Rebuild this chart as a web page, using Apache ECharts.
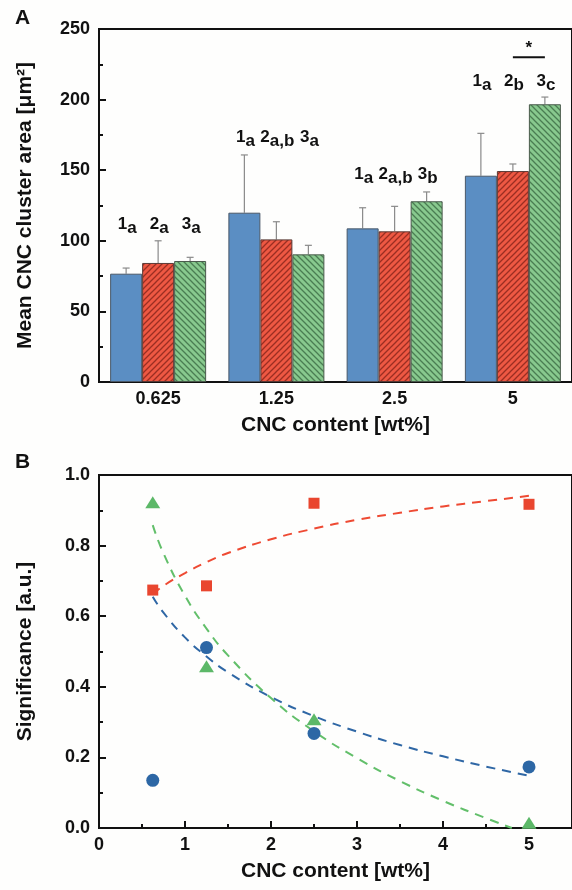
<!DOCTYPE html>
<html>
<head>
<meta charset="utf-8">
<script src="https://cdn.jsdelivr.net/npm/echarts@6/dist/echarts.min.js"></script>
<style>
html,body{margin:0;padding:0;background:#fefefd;}
#chart{width:572px;height:890px;}
</style>
</head>
<body>
<div id="chart"></div>
<script>
// ---------- Panel A data ----------
const categories = ['0.625', '1.25', '2.5', '5'];
const mean1 = [76.7, 119.9, 108.8, 146.1];
const sd1   = [4.0, 40.9, 14.6, 30.0];
const mean2 = [84.3, 101.0, 106.7, 149.4];
const sd2   = [15.7, 12.5, 17.7, 5.0];
const mean3 = [85.7, 90.4, 128.0, 196.7];
const sd3   = [2.6, 6.4, 6.6, 5.1];
const labelLevels = [112, 173, 147, 213];
const sub1 = ['a', 'a', 'a', 'a'];
const sub2 = ['a', 'a,b', 'a,b', 'b'];
const sub3 = ['a', 'a', 'b', 'c'];
const sigBracket = [3, 230, 236]; // category index, line level, star level
const yTicksA = [0, 250, 50];

// ---------- Panel B data ----------
const xConc = [0.625, 1.25, 2.5, 5];
const sigBlue  = [0.135, 0.511, 0.268, 0.173];
const sigRed   = [0.674, 0.686, 0.920, 0.917];
const sigGreen = [0.923, 0.458, 0.308, 0.015];
const fitX      = [0.625, 0.75, 1.0, 1.25, 1.5, 2.0, 2.5, 3.0, 3.5, 4.0, 4.5, 5.0];
const fitRed    = [0.662, 0.686, 0.722, 0.753, 0.779, 0.818, 0.848, 0.873, 0.893, 0.911, 0.926, 0.941];
const fitBlue   = [0.655, 0.610, 0.540, 0.486, 0.441, 0.371, 0.317, 0.273, 0.235, 0.203, 0.174, 0.148];
const fitGreenX = [0.625, 0.75, 1.0, 1.25, 1.5, 2.0, 2.5, 3.0, 3.5, 4.0, 4.5, 4.8];
const fitGreen  = [0.858, 0.778, 0.658, 0.565, 0.489, 0.368, 0.274, 0.198, 0.133, 0.077, 0.028, 0.0];

// ---------- styles ----------
const FONT = "'Liberation Sans', Arial, sans-serif";
const BAR_W = 32;
const INK = '#111';
const LBL_FONT = 'bold 17px ' + FONT;

const measureCtx = document.createElement('canvas').getContext('2d');
function textW(t, font) { measureCtx.font = font; return measureCtx.measureText(t).width; }

function hatch(bg, line, forward) {
  const s = 6;
  const c = document.createElement('canvas');
  c.width = s; c.height = s;
  const g = c.getContext('2d');
  g.fillStyle = bg; g.fillRect(0, 0, s, s);
  g.strokeStyle = line; g.lineWidth = 1.3;
  g.beginPath();
  if (forward) {
    g.moveTo(-1, s + 1); g.lineTo(s + 1, -1);
    g.moveTo(-1, 1); g.lineTo(1, -1);
    g.moveTo(s - 1, s + 1); g.lineTo(s + 1, s - 1);
  } else {
    g.moveTo(-1, -1); g.lineTo(s + 1, s + 1);
    g.moveTo(-1, s - 1); g.lineTo(1, s + 1);
    g.moveTo(s - 1, -1); g.lineTo(s + 1, 1);
  }
  g.stroke();
  return { image: c, repeat: 'repeat' };
}

const blueBar = '#5b8ec3';
const redBar = hatch('#ee5843', '#9a2e22', true);
const greenBar = hatch('#88c98e', '#4a7d52', false);

const chart = echarts.init(document.getElementById('chart'), null, { renderer: 'canvas' });

function errData(means, sds, s) {
  return means.map((m, i) => [i, m, m + sds[i], s]);
}
const labelRows = [];
[sub1, sub2, sub3].forEach((subs, s) => {
  subs.forEach((sub, i) => labelRows.push([i, labelLevels[i], s, String(s + 1), sub]));
});

const axisCommon = {
  axisLine: { show: true, lineStyle: { color: INK, width: 2 } },
  axisLabel: { color: INK, fontFamily: FONT, fontWeight: 'bold', fontSize: 18 },
  nameTextStyle: { color: INK, fontFamily: FONT, fontWeight: 'bold', fontSize: 21 },
  splitLine: { show: false }
};
const tickStyle = { show: true, inside: true, length: 7, lineStyle: { color: INK, width: 2 } };
const minorStyle = { show: true, splitNumber: 2, length: 4, lineStyle: { color: INK, width: 2 } };

const option = {
  backgroundColor: '#fefefd',
  animation: false,
  grid: [
    { left: 99, top: 29, width: 478, height: 353, show: true, borderColor: INK, borderWidth: 2, backgroundColor: 'transparent' },
    { left: 99, top: 475, width: 478, height: 353, show: true, borderColor: INK, borderWidth: 2, backgroundColor: 'transparent' }
  ],
  xAxis: [
    Object.assign({}, axisCommon, {
      gridIndex: 0, type: 'category', data: categories,
      axisTick: { show: false },
      axisLabel: Object.assign({}, axisCommon.axisLabel, { margin: 8 }),
      name: 'CNC content [wt%]', nameLocation: 'middle', nameGap: 33
    }),
    Object.assign({}, axisCommon, {
      gridIndex: 1, type: 'value', min: 0, max: 5.5, interval: 1,
      axisTick: tickStyle, minorTick: minorStyle,
      axisLabel: Object.assign({}, axisCommon.axisLabel, { margin: 8, showMaxLabel: false }),
      name: 'CNC content [wt%]', nameLocation: 'middle', nameGap: 33
    })
  ],
  yAxis: [
    Object.assign({}, axisCommon, {
      gridIndex: 0, type: 'value', min: yTicksA[0], max: yTicksA[1], interval: yTicksA[2],
      axisTick: tickStyle, minorTick: minorStyle,
      axisLabel: Object.assign({}, axisCommon.axisLabel, { margin: 9 }),
      name: 'Mean CNC cluster area [μm²]', nameLocation: 'middle', nameGap: 63
    }),
    Object.assign({}, axisCommon, {
      gridIndex: 1, type: 'value', min: 0, max: 1, interval: 0.2,
      axisTick: tickStyle, minorTick: minorStyle,
      axisLabel: Object.assign({}, axisCommon.axisLabel, { margin: 9, formatter: v => v.toFixed(1) }),
      name: 'Significance [a.u.]', nameLocation: 'middle', nameGap: 63
    })
  ],
  graphic: [
    { type: 'text', left: 15, top: 8, style: { text: 'A', font: "bold 21px " + FONT, fill: INK } },
    { type: 'text', left: 15, top: 452, style: { text: 'B', font: "bold 21px " + FONT, fill: INK } }
  ],
  series: [
    { type: 'bar', xAxisIndex: 0, yAxisIndex: 0, data: mean1, barWidth: BAR_W, barGap: '0%',
      itemStyle: { color: blueBar, borderColor: '#4a5868', borderWidth: 1 } },
    { type: 'bar', xAxisIndex: 0, yAxisIndex: 0, data: mean2, barWidth: BAR_W, barGap: '0%',
      itemStyle: { color: redBar, borderColor: '#5a3a36', borderWidth: 1 } },
    { type: 'bar', xAxisIndex: 0, yAxisIndex: 0, data: mean3, barWidth: BAR_W, barGap: '0%',
      itemStyle: { color: greenBar, borderColor: '#4a5a4c', borderWidth: 1 } },
    {
      type: 'custom', xAxisIndex: 0, yAxisIndex: 0, z: 1,
      data: errData(mean1, sd1, 0).concat(errData(mean2, sd2, 1), errData(mean3, sd3, 2)),
      renderItem: function (params, api) {
        const off = (api.value(3) - 1) * BAR_W;
        const p0 = api.coord([api.value(0), api.value(1)]);
        const p1 = api.coord([api.value(0), api.value(2)]);
        const x = p0[0] + off;
        const st = { stroke: '#8a8a8a', lineWidth: 1.2 };
        return { type: 'group', children: [
          { type: 'line', shape: { x1: x, y1: p0[1], x2: x, y2: p1[1] }, style: st },
          { type: 'line', shape: { x1: x - 3.5, y1: p1[1], x2: x + 3.5, y2: p1[1] }, style: st }
        ]};
      }
    },
    {
      type: 'custom', xAxisIndex: 0, yAxisIndex: 0, z: 5,
      data: labelRows,
      renderItem: function (params, api) {
        const d = labelRows[params.dataIndex];
        const off = (api.value(2) - 1) * BAR_W;
        const p = api.coord([api.value(0), api.value(1)]);
        const wN = textW(d[3], LBL_FONT), wS = textW(d[4], LBL_FONT);
        const left = p[0] + off + 1 - (wN + wS) / 2;
        return { type: 'group', children: [
          { type: 'text', x: left, y: p[1],
            style: { text: d[3], font: LBL_FONT, fill: INK, align: 'left', verticalAlign: 'middle' } },
          { type: 'text', x: left + wN, y: p[1] + 4,
            style: { text: d[4], font: LBL_FONT, fill: INK, align: 'left', verticalAlign: 'middle' } }
        ]};
      }
    },
    {
      type: 'custom', xAxisIndex: 0, yAxisIndex: 0, z: 5,
      data: [sigBracket],
      renderItem: function (params, api) {
        const pL = api.coord([api.value(0), api.value(1)]);
        const pS = api.coord([api.value(0), api.value(2)]);
        return { type: 'group', children: [
          { type: 'line', shape: { x1: pL[0], y1: pL[1], x2: pL[0] + BAR_W, y2: pL[1] }, style: { stroke: INK, lineWidth: 2 } },
          { type: 'text', x: pL[0] + BAR_W / 2, y: pS[1], style: { text: '*', font: 'bold 17px ' + FONT, fill: INK, align: 'center', verticalAlign: 'middle' } }
        ]};
      }
    },
    // Panel B fits
    { type: 'line', xAxisIndex: 1, yAxisIndex: 1, smooth: true, showSymbol: false, z: 2,
      data: fitX.map((x, i) => [x, fitRed[i]]), lineStyle: { color: '#ee4a33', width: 2, type: [9, 7] } },
    { type: 'line', xAxisIndex: 1, yAxisIndex: 1, smooth: true, showSymbol: false, z: 2,
      data: fitX.map((x, i) => [x, fitBlue[i]]), lineStyle: { color: '#2f67a5', width: 2, type: [9, 7] } },
    { type: 'line', xAxisIndex: 1, yAxisIndex: 1, smooth: true, showSymbol: false, z: 2,
      data: fitGreenX.map((x, i) => [x, fitGreen[i]]), lineStyle: { color: '#62bf6a', width: 2, type: [9, 7] } },
    // Panel B points
    { type: 'scatter', xAxisIndex: 1, yAxisIndex: 1, z: 4, symbol: 'circle', symbolSize: 13,
      data: xConc.map((x, i) => [x, sigBlue[i]]), itemStyle: { color: '#2d67a5', opacity: 1 } },
    { type: 'scatter', xAxisIndex: 1, yAxisIndex: 1, z: 4, symbol: 'rect', symbolSize: 11,
      data: xConc.map((x, i) => [x, sigRed[i]]), itemStyle: { color: '#e9462f', opacity: 1 } },
    { type: 'scatter', xAxisIndex: 1, yAxisIndex: 1, z: 4, symbol: 'triangle', symbolSize: [15, 12],
      data: xConc.map((x, i) => [x, sigGreen[i]]), itemStyle: { color: '#5cb868', opacity: 1 } }
  ]
};
chart.setOption(option);
</script>
</body>
</html>
